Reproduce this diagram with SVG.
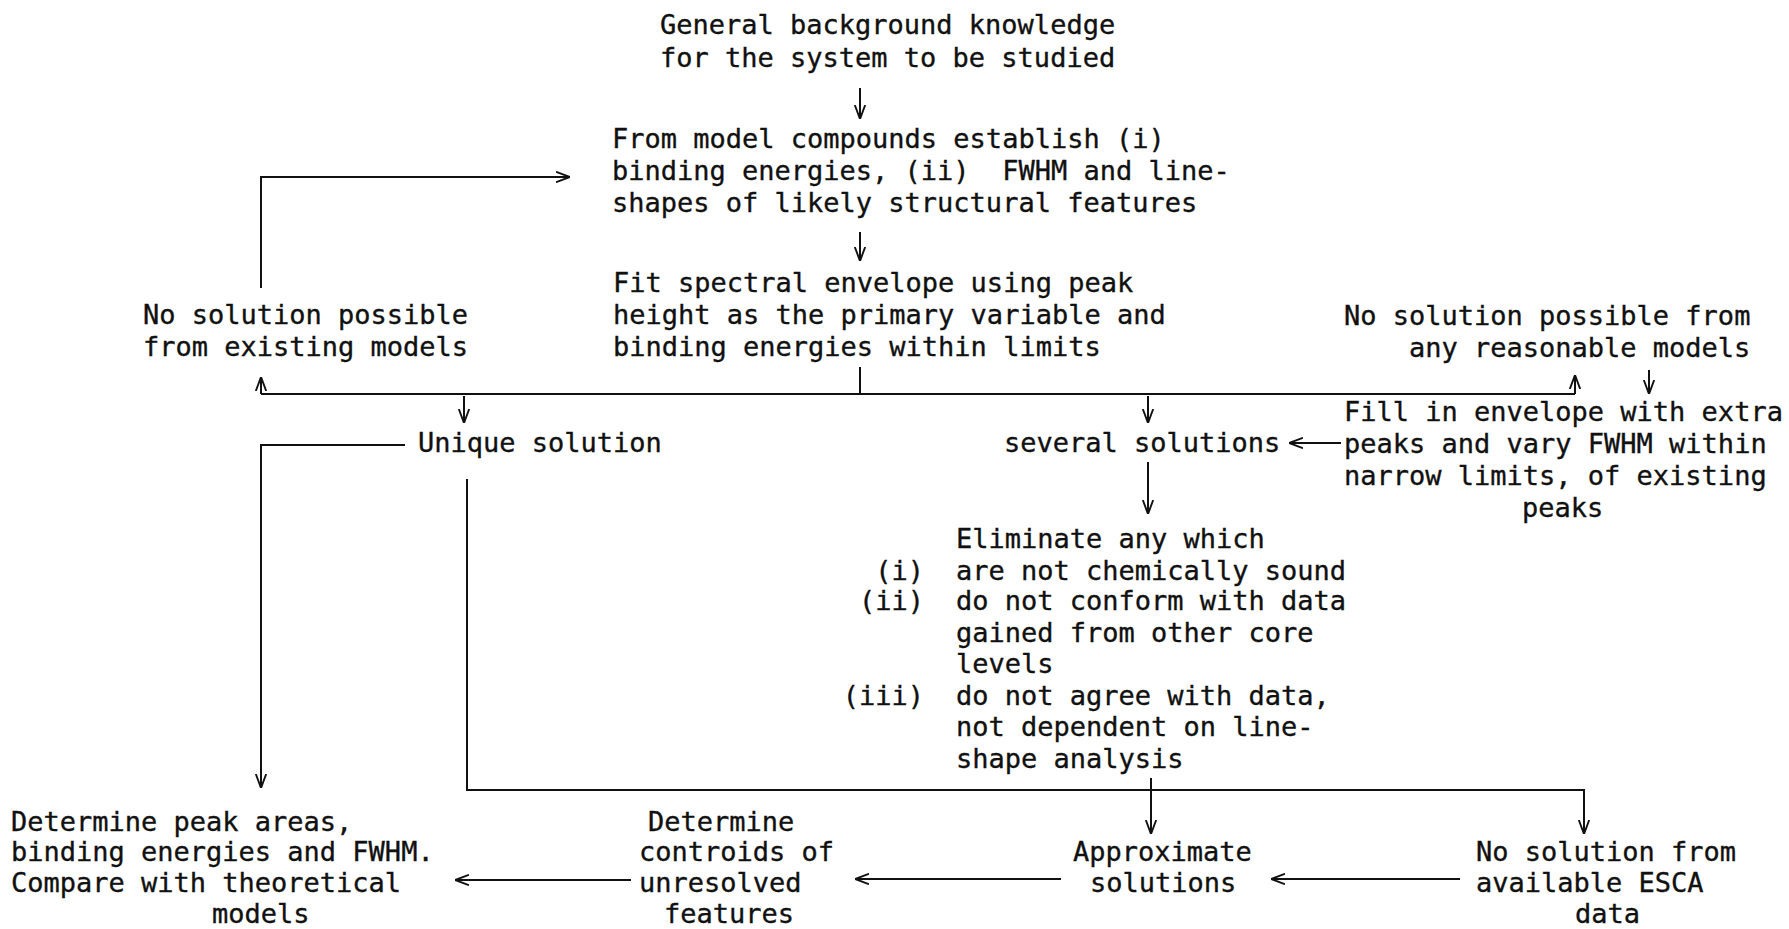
<svg xmlns="http://www.w3.org/2000/svg" width="1789" height="929" viewBox="0 0 1789 929">
  <defs>
    <marker id="arr" viewBox="0 0 14 12" refX="14" refY="6" markerWidth="14" markerHeight="12" markerUnits="userSpaceOnUse" orient="auto">
      <path d="M0,0.8 L14,6 L0,11.2" fill="none" stroke="#111" stroke-width="1.9"/>
    </marker>
    <style>
      text { font-family: "DejaVu Sans Mono", "Liberation Mono", monospace; font-size: 27px; fill: #111; stroke: #111; stroke-width: 0.35; white-space: pre; }
      .end { text-anchor: end; }
      .ln { fill: none; stroke: #111; stroke-width: 2; }
      .ar { fill: none; stroke: #111; stroke-width: 2; marker-end: url(#arr); }
    </style>
  </defs>
  <rect width="1789" height="929" fill="#fff"/>

  <!-- connectors -->
  <g id="connectors">
    <line class="ar" x1="860" y1="88" x2="860" y2="119"/>
    <line class="ar" x1="860" y1="232" x2="860" y2="261"/>
    <line class="ln" x1="860" y1="367" x2="860" y2="394"/>
    <line class="ln" x1="261" y1="394" x2="1575" y2="394"/>
    <line class="ar" x1="261" y1="394" x2="261" y2="377"/>
    <line class="ar" x1="1575" y1="394" x2="1575" y2="375"/>
    <polyline class="ar" points="261,288 261,177 570,177"/>
    <line class="ar" x1="1649" y1="370" x2="1649" y2="394"/>
    <line class="ar" x1="464" y1="396" x2="464" y2="423"/>
    <line class="ar" x1="1148" y1="396" x2="1148" y2="423"/>
    <line class="ar" x1="1341" y1="443" x2="1289" y2="443"/>
    <polyline class="ar" points="405,445 261,445 261,788"/>
    <polyline class="ar" points="467,479 467,790 1584,790 1584,834"/>
    <line class="ar" x1="1148" y1="462" x2="1148" y2="514"/>
    <line class="ar" x1="1151" y1="778" x2="1151" y2="834"/>
    <line class="ar" x1="1460" y1="879" x2="1271" y2="879"/>
    <line class="ar" x1="1061" y1="879" x2="855" y2="879"/>
    <line class="ar" x1="631" y1="880" x2="455" y2="880"/>
  </g>

  <g id="background">
    <text x="660" y="34">General background knowledge</text>
    <text x="660" y="67">for the system to be studied</text>
  </g>
  <g id="model-compounds">
    <text x="612" y="148">From model compounds establish (i)</text>
    <text x="612" y="180">binding energies, (ii)  FWHM and line-</text>
    <text x="612" y="212">shapes of likely structural features</text>
  </g>
  <g id="fit-envelope">
    <text x="613" y="292">Fit spectral envelope using peak</text>
    <text x="613" y="324">height as the primary variable and</text>
    <text x="613" y="356">binding energies within limits</text>
  </g>
  <g id="no-solution-existing">
    <text x="143" y="324">No solution possible</text>
    <text x="143" y="356">from existing models</text>
  </g>
  <g id="no-solution-reasonable">
    <text x="1344" y="325">No solution possible from</text>
    <text x="1409" y="357">any reasonable models</text>
  </g>
  <g id="unique-solution">
    <text x="418" y="452">Unique solution</text>
  </g>
  <g id="several-solutions">
    <text x="1004" y="452">several solutions</text>
  </g>
  <g id="fill-envelope">
    <text x="1344" y="421">Fill in envelope with extra</text>
    <text x="1344" y="453">peaks and vary FWHM within</text>
    <text x="1344" y="485">narrow limits, of existing</text>
    <text x="1522" y="517">peaks</text>
  </g>
  <g id="eliminate">
    <text x="956" y="548">Eliminate any which</text>
    <text class="end" x="924" y="580">(i)</text>
    <text x="956" y="580">are not chemically sound</text>
    <text class="end" x="924" y="610">(ii)</text>
    <text x="956" y="610">do not conform with data</text>
    <text x="956" y="642">gained from other core</text>
    <text x="956" y="673">levels</text>
    <text class="end" x="924" y="705">(iii)</text>
    <text x="956" y="705">do not agree with data,</text>
    <text x="956" y="736">not dependent on line-</text>
    <text x="956" y="768">shape analysis</text>
  </g>
  <g id="peak-areas">
    <text x="11" y="831">Determine peak areas,</text>
    <text x="11" y="861">binding energies and FWHM.</text>
    <text x="11" y="892">Compare with theoretical</text>
    <text x="212" y="923">models</text>
  </g>
  <g id="centroids">
    <text x="648" y="831">Determine</text>
    <text x="639" y="861">controids of</text>
    <text x="639" y="892">unresolved</text>
    <text x="664" y="923">features</text>
  </g>
  <g id="approximate">
    <text x="1073" y="861">Approximate</text>
    <text x="1090" y="892">solutions</text>
  </g>
  <g id="no-esca">
    <text x="1476" y="861">No solution from</text>
    <text x="1476" y="892">available ESCA</text>
    <text x="1575" y="923">data</text>
  </g>
</svg>
